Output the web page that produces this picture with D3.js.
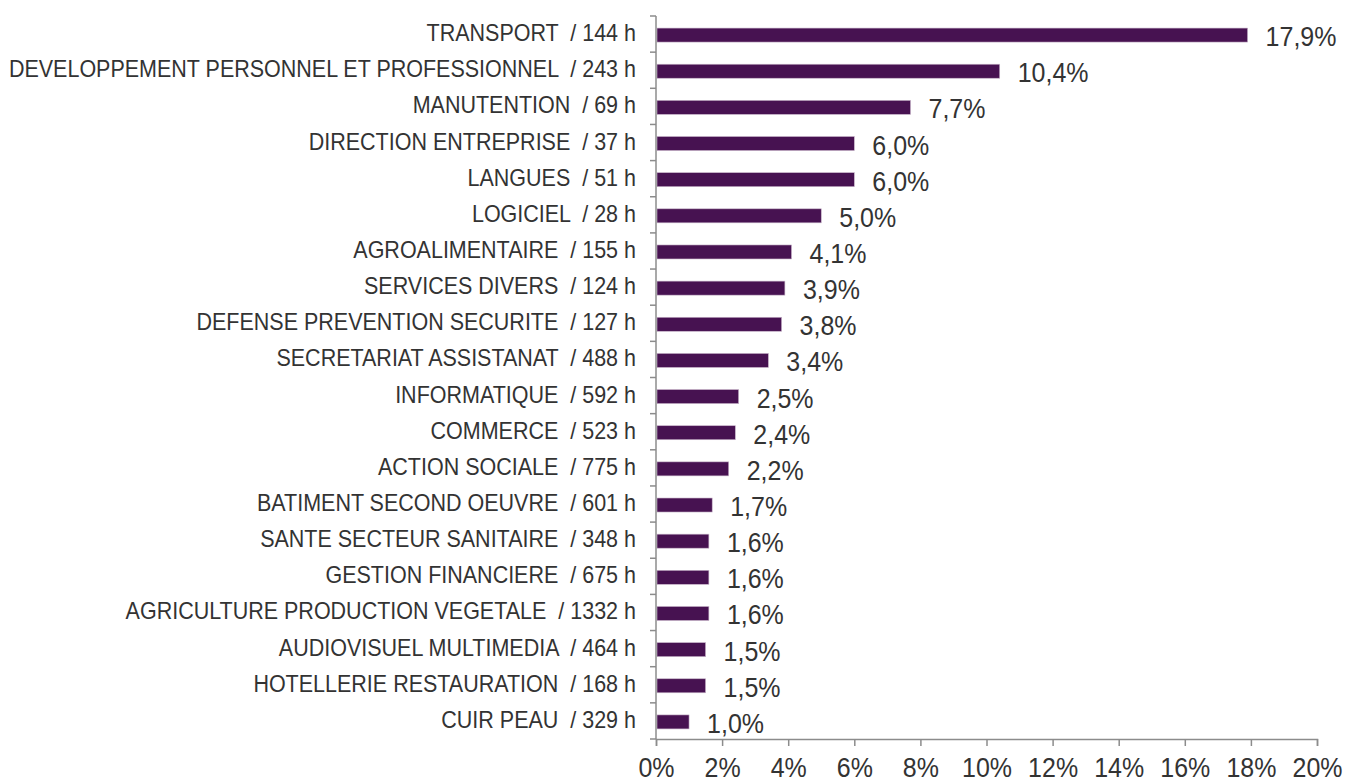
<!DOCTYPE html>
<html>
<head>
<meta charset="utf-8">
<script src="https://cdn.jsdelivr.net/npm/d3@7"></script>
<style>
    body { margin: 0; background: #fff; }
    svg text { font-family: "Liberation Sans", Arial, sans-serif; fill: #333; white-space: pre; }
</style>
</head>
<body>
<svg id="chart" width="1347" height="783"></svg>
<script>
(function () {
    'use strict';

    var categories = ["TRANSPORT", "DEVELOPPEMENT PERSONNEL ET PROFESSIONNEL", "MANUTENTION",
        "DIRECTION ENTREPRISE", "LANGUES", "LOGICIEL", "AGROALIMENTAIRE", "SERVICES DIVERS",
        "DEFENSE PREVENTION SECURITE", "SECRETARIAT ASSISTANAT", "INFORMATIQUE", "COMMERCE",
        "ACTION SOCIALE", "BATIMENT SECOND OEUVRE", "SANTE SECTEUR SANITAIRE", "GESTION FINANCIERE",
        "AGRICULTURE PRODUCTION VEGETALE", "AUDIOVISUEL MULTIMEDIA", "HOTELLERIE RESTAURATION", "CUIR PEAU"];
    var hours = [144, 243, 69, 37, 51, 28, 155, 124, 127, 488, 592, 523, 775, 601, 348, 675, 1332, 464, 168, 329];
    var values = [17.9, 10.4, 7.7, 6.0, 6.0, 5.0, 4.1, 3.9, 3.8, 3.4, 2.5, 2.4, 2.2, 1.7, 1.6, 1.6, 1.6, 1.5, 1.5, 1.0];
    var xTicks = [0, 2, 4, 6, 8, 10, 12, 14, 16, 18, 20];

    var svg = d3.select("#chart");

    var x = d3.scaleLinear().domain([0, 20]).range([656, 1317]);
    var y = d3.scaleBand().domain(categories).range([16, 739]).paddingInner(0.6).paddingOuter(0.3);

    var fmt = function (v) { return v.toFixed(1).replace(".", ",") + "%"; };
    // text in the original is a bit taller than wide
    var stretch = function (tx, ty) { return "translate(" + tx + "," + ty + ") scale(1,1.1)"; };
    var mid = function (c) { return y(c) + y.bandwidth() / 2 + 1; };

    // bars
    svg.append("g").selectAll("rect")
        .data(values)
        .enter().append("rect")
        .attr("x", x(0) + 1)
        .attr("y", (d, i) => mid(categories[i]) - 7)
        .attr("width", d => x(d) - x(0) - 1)
        .attr("height", 14)
        .style("fill", "#471251")
        .style("stroke", "#c7b4c9")
        .style("stroke-width", "0.6px");

    // value labels
    svg.append("g").selectAll("text")
        .data(values)
        .enter().append("text")
        .attr("transform", (d, i) => stretch(x(d) + 18, mid(categories[i]) + 11))
        .style("font-size", "25px")
        .text(fmt);

    // category labels
    svg.append("g").selectAll("text")
        .data(categories)
        .enter().append("text")
        .attr("transform", d => stretch(636, mid(d) + 6))
        .attr("text-anchor", "end")
        .style("font-size", "21.5px")
        .text((d, i) => d + "  / " + hours[i] + " h");

    // y axis line with ticks between categories
    var axisColor = "#8c8c8c";
    var yb = svg.append("g");
    yb.append("line")
        .attr("x1", 656).attr("x2", 656)
        .attr("y1", 16).attr("y2", 739)
        .style("stroke", axisColor).style("stroke-width", "1.5px");
    var step = y.step();
    yb.selectAll("line.tick")
        .data(d3.range(categories.length + 1))
        .enter().append("line")
        .attr("class", "tick")
        .attr("x1", 650).attr("x2", 656)
        .attr("y1", d => 16 + d * step).attr("y2", d => 16 + d * step)
        .style("stroke", axisColor).style("stroke-width", "1.5px");

    // x axis
    var xAxis = d3.axisBottom(x)
        .tickValues(xTicks)
        .tickSize(7)
        .tickFormat(d => d + "%");
    var xg = svg.append("g")
        .attr("transform", "translate(0,739)")
        .call(xAxis);
    xg.select(".domain").style("stroke", axisColor).style("stroke-width", "1.5px");
    xg.selectAll(".tick line").style("stroke", axisColor).style("stroke-width", "1.5px");
    xg.selectAll(".tick text")
        .attr("y", null).attr("dy", null)
        .attr("transform", stretch(0, 38))
        .style("font-size", "25px")
        .style("font-family", "\"Liberation Sans\", Arial, sans-serif")
        .style("fill", "#333");
}());
</script>
</body>
</html>
